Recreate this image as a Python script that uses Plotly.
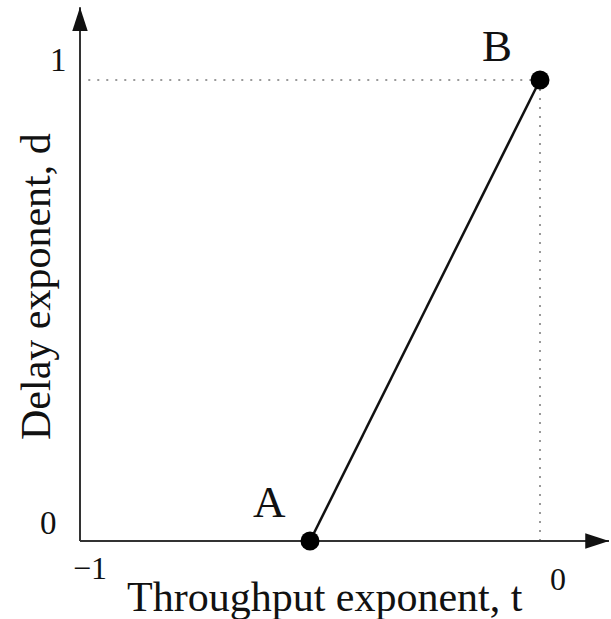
import plotly.graph_objects as go

# ---- data ----
point_names = ["A", "B"]
throughput = [-0.5, 0.0]     # t
delay = [0.0, 1.0]           # d
x_tick_vals = [-1, 0]
x_tick_text = ["\u22121", "0"]
y_tick_vals = [0, 1]
y_tick_text = ["0", "1"]
x_title = "Throughput exponent, t"
y_title = "Delay exponent, d"

# ---- layout geometry ----
W, H = 611, 619
x_range = [-1 - 80 / 460, -1 + 531 / 460]
y_range = [-(619 - 541) / 461, 541 / 461]
x_axis_end = 0.150
y_axis_end = 1.158
FONT = "Liberation Serif, Times New Roman, serif"
TXT = "#111111"

fig = go.Figure()

# dotted guide lines to B
bx, by = throughput[1], delay[1]
fig.add_trace(go.Scatter(x=[-0.982, bx], y=[by, by], mode="lines",
                         line=dict(color="#9a9a9a", width=2, dash="2px,7px"),
                         hoverinfo="skip", showlegend=False))
fig.add_trace(go.Scatter(x=[bx, bx], y=[by, 0], mode="lines",
                         line=dict(color="#9a9a9a", width=2, dash="2px,7px"),
                         hoverinfo="skip", showlegend=False))

# axes with arrowheads
fig.add_trace(go.Scatter(x=[x_tick_vals[0], x_axis_end], y=[y_tick_vals[0], y_tick_vals[0]],
                         mode="lines", line=dict(color="#333333", width=2),
                         hoverinfo="skip", showlegend=False))
fig.add_trace(go.Scatter(x=[x_tick_vals[0], x_tick_vals[0]], y=[y_tick_vals[0], y_axis_end],
                         mode="lines", line=dict(color="#333333", width=2),
                         hoverinfo="skip", showlegend=False))
fig.add_trace(go.Scatter(x=[x_axis_end, x_tick_vals[0]], y=[y_tick_vals[0], y_axis_end],
                         mode="markers",
                         marker=dict(symbol="arrow", size=25, angle=[90, 0],
                                     color="#111111", line=dict(width=0)),
                         cliponaxis=False, hoverinfo="skip", showlegend=False))

# the segment A-B
fig.add_trace(go.Scatter(x=throughput, y=delay, mode="lines+markers",
                         line=dict(color="#111111", width=2.5),
                         marker=dict(size=19, color="#000000"),
                         cliponaxis=False, showlegend=False))

annotations = []
# point labels
label_shift = {"A": (-41, 39), "B": (-43, 34)}
for name, xv, yv in zip(point_names, throughput, delay):
    dx, dy = label_shift[name]
    annotations.append(dict(x=xv, y=yv, xref="x", yref="y", text=name, showarrow=False,
                            xshift=dx, yshift=dy, xanchor="center", yanchor="middle",
                            font=dict(family=FONT, size=45, color=TXT)))
# tick labels
x_shift = [(10, -27), (18, -38)]
for v, t, (dx, dy) in zip(x_tick_vals, x_tick_text, x_shift):
    annotations.append(dict(x=v, y=y_tick_vals[0], xref="x", yref="y", text=t, showarrow=False,
                            xshift=dx, yshift=dy, xanchor="center", yanchor="middle",
                            font=dict(family=FONT, size=32, color=TXT)))
y_shift = [(-32, 18), (-22, 20)]
for v, t, (dx, dy) in zip(y_tick_vals, y_tick_text, y_shift):
    annotations.append(dict(x=x_tick_vals[0], y=v, xref="x", yref="y", text=t, showarrow=False,
                            xshift=dx, yshift=dy, xanchor="center", yanchor="middle",
                            font=dict(family=FONT, size=33, color=TXT)))
# axis titles
annotations.append(dict(x=325 / W, y=1 - 597 / H, xref="paper", yref="paper", text=x_title,
                        showarrow=False, xanchor="center", yanchor="middle",
                        font=dict(family=FONT, size=42, color=TXT)))
annotations.append(dict(x=36 / W, y=1 - 287 / H, xref="paper", yref="paper", text=y_title,
                        showarrow=False, xanchor="center", yanchor="middle", textangle=-90,
                        font=dict(family=FONT, size=42, color=TXT)))

fig.update_layout(
    width=W, height=H, margin=dict(l=0, r=0, t=0, b=0),
    paper_bgcolor="white", plot_bgcolor="white",
    xaxis=dict(range=x_range, visible=False, fixedrange=True),
    yaxis=dict(range=y_range, visible=False, fixedrange=True),
    annotations=annotations, showlegend=False,
)

fig.write_html("out.html", config={"displayModeBar": False},
               post_script="document.body.style.margin='0';")
